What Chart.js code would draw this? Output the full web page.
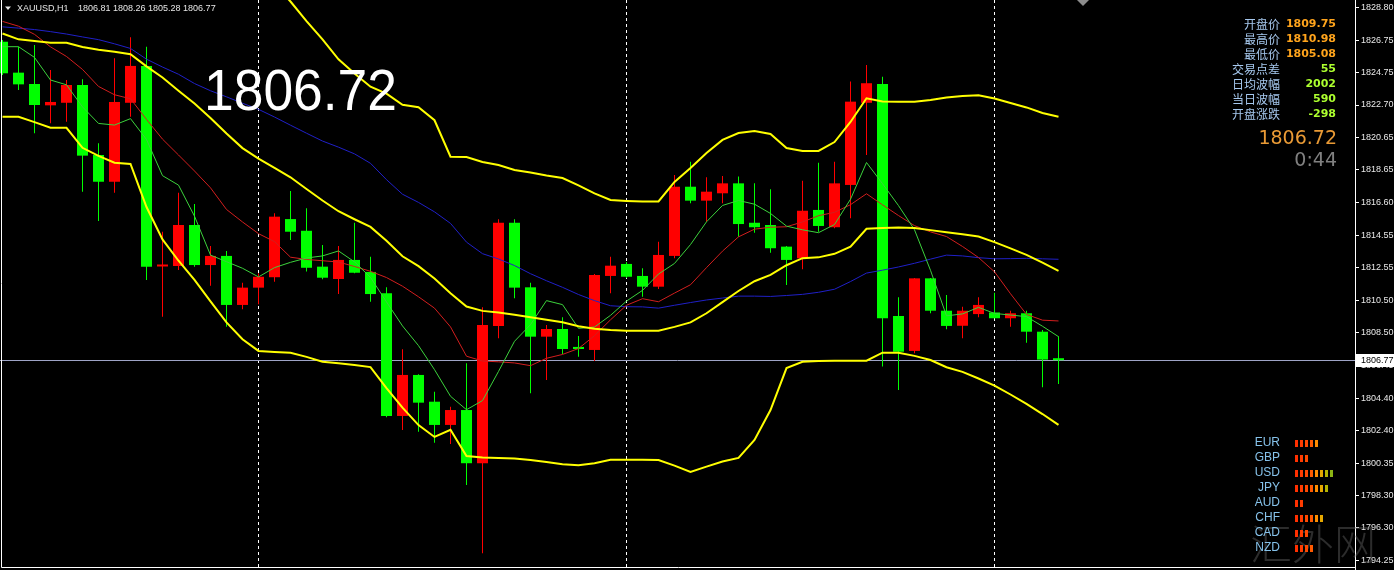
<!DOCTYPE html>
<html>
<head>
<meta charset="utf-8">
<script src="https://cdn.jsdelivr.net/npm/chart.js@4.4.1/dist/chart.umd.min.js"></script>
<style>
  html, body { margin: 0; padding: 0; background: #000; overflow: hidden; }
  canvas { display: block; }
</style>
</head>
<body>
<canvas id="myChart" width="1394" height="570"></canvas>
<script>
var symbol = "XAUUSD,H1";

// H1 candles, oldest first
var opens = [1826.65,1824.72,1824.01,1822.68,1822.84,1823.95,1819.58,1817.91,1822.84,1825.14,
  1812.62,1812.65,1815.21,1812.71,1813.28,1810.22,1811.30,1811.95,1815.58,1814.85,
  1812.61,1811.84,1813.03,1812.28,1810.95,1803.29,1805.85,1804.18,1802.73,1803.66,
  1800.34,1808.91,1815.35,1811.32,1808.24,1808.72,1807.60,1807.41,1812.03,1812.78,
  1812.03,1811.36,1813.28,1817.60,1816.73,1817.19,1817.81,1815.35,1815.21,1813.86,
  1813.13,1816.15,1815.07,1817.71,1822.84,1824.01,1809.53,1807.35,1811.88,1809.86,
  1808.92,1809.65,1809.75,1809.39,1809.70,1808.55,1806.81];
var highs = [1826.76,1826.34,1826.45,1824.89,1824.26,1824.31,1820.31,1825.62,1826.93,1826.34,
  1814.79,1817.23,1816.52,1813.90,1813.59,1811.61,1812.20,1815.94,1817.33,1816.25,
  1813.96,1813.90,1815.35,1813.23,1811.32,1807.45,1805.90,1804.80,1803.87,1806.58,
  1810.07,1815.57,1815.57,1811.61,1808.97,1809.45,1808.28,1812.15,1813.23,1812.90,
  1812.51,1814.17,1818.33,1819.16,1818.19,1818.27,1818.23,1817.81,1817.44,1813.90,
  1817.98,1819.10,1819.16,1824.16,1825.20,1824.47,1810.70,1811.90,1811.90,1810.84,
  1810.11,1810.70,1810.98,1809.86,1809.86,1808.65,1808.26];
var lows = [1824.57,1823.64,1820.93,1821.56,1821.66,1817.29,1815.46,1817.23,1821.97,1811.78,
  1809.49,1812.40,1812.61,1811.42,1808.86,1809.95,1810.26,1811.67,1814.27,1812.30,
  1811.82,1810.90,1812.20,1810.42,1803.21,1802.41,1802.31,1801.62,1801.54,1798.98,
  1794.72,1808.14,1810.63,1804.70,1805.54,1807.16,1806.99,1806.72,1810.95,1811.90,
  1810.73,1811.21,1813.13,1816.57,1815.42,1816.57,1814.48,1814.73,1813.48,1811.47,
  1812.45,1814.79,1815.00,1815.63,1819.58,1806.37,1804.91,1807.20,1809.70,1808.70,
  1808.14,1809.45,1809.39,1808.86,1807.86,1805.08,1805.28];
var closes = [1824.68,1823.99,1822.70,1822.89,1823.95,1819.54,1817.91,1822.89,1825.14,1812.61,
  1812.70,1815.21,1812.71,1813.28,1810.22,1811.30,1811.98,1815.73,1814.79,1812.54,
  1811.92,1813.03,1812.23,1810.90,1803.29,1805.85,1804.12,1802.73,1803.66,1800.34,
  1808.97,1815.35,1811.30,1808.24,1808.72,1807.47,1807.47,1812.09,1812.67,1811.98,
  1811.36,1813.34,1817.60,1816.73,1817.29,1817.81,1815.27,1815.07,1813.76,1813.03,
  1816.10,1815.15,1817.81,1822.91,1824.06,1809.39,1807.30,1811.88,1809.86,1808.91,
  1809.86,1810.22,1809.39,1809.70,1808.55,1806.81,1806.77];

// moving averages
var maFast = [1826.34,1826.34,1825.67,1824.26,1823.96,1822.58,1821.55,1821.45,1821.85,1820.55,
  1818.29,1817.70,1815.76,1813.33,1812.92,1812.51,1811.97,1812.55,1812.88,1813.15,
  1813.28,1813.59,1812.91,1811.94,1810.41,1808.91,1807.68,1806.18,1804.52,1803.68,
  1804.25,1806.07,1807.95,1808.99,1810.49,1810.24,1808.76,1808.84,1809.57,1810.46,
  1811.13,1812.15,1812.81,1813.99,1815.41,1816.43,1816.74,1816.51,1815.93,1815.14,
  1814.91,1814.73,1815.24,1816.82,1819.11,1817.79,1816.42,1814.91,1812.38,1809.54,
  1809.66,1810.07,1809.69,1809.59,1809.49,1808.89,1808.24];
var maMid = [1827.92,1827.62,1827.11,1826.33,1825.73,1824.92,1823.86,1823.34,1823.09,1821.80,
  1820.57,1819.58,1818.58,1817.53,1816.18,1815.40,1814.67,1814.17,1813.20,1813.06,
  1812.98,1812.90,1812.62,1812.32,1811.93,1811.39,1810.73,1810.02,1808.85,1807.02,
  1806.72,1806.67,1806.60,1806.43,1806.89,1807.13,1807.50,1808.30,1809.29,1810.20,
  1810.61,1810.42,1810.96,1811.48,1812.55,1813.58,1814.47,1814.95,1815.07,1815.10,
  1815.40,1815.79,1816.00,1816.48,1817.16,1816.47,1815.80,1815.17,1814.78,1814.49,
  1813.87,1813.18,1812.29,1810.92,1809.63,1809.27,1809.22];
var maSlow = [1827.58,1827.50,1827.41,1827.28,1827.13,1826.95,1826.78,1826.52,1826.23,1825.56,
  1825.07,1824.62,1824.04,1823.59,1823.21,1822.81,1822.43,1821.95,1821.44,1820.94,
  1820.45,1820.07,1819.65,1819.06,1818.04,1817.13,1816.62,1816.03,1815.31,1814.14,
  1813.42,1813.09,1812.68,1812.17,1811.73,1811.32,1810.87,1810.49,1810.17,1810.11,
  1810.10,1810.02,1810.20,1810.37,1810.53,1810.65,1810.77,1810.77,1810.75,1810.81,
  1810.88,1811.01,1811.20,1811.68,1812.21,1812.39,1812.59,1812.82,1813.08,1813.33,
  1813.28,1813.17,1813.10,1813.11,1813.13,1813.10,1813.07];

// bollinger bands
var bbUpper = [1832.36,1831.65,1831.77,1831.90,1831.90,1832.60,1832.78,1832.93,1832.72,1833.89,
  1834.53,1834.21,1833.80,1833.34,1832.72,1831.95,1831.35,1830.25,1829.16,1827.94,
  1826.80,1825.55,1824.67,1823.84,1823.41,1822.71,1822.56,1821.75,1819.47,1819.45,
  1819.14,1818.96,1818.64,1818.49,1818.30,1818.14,1817.68,1817.18,1816.77,1816.71,
  1816.67,1816.68,1817.90,1818.77,1819.71,1820.52,1820.95,1821.08,1820.89,1820.02,
  1819.83,1819.83,1820.39,1821.64,1823.12,1822.92,1822.91,1822.91,1823.01,1823.17,
  1823.26,1823.31,1823.11,1822.83,1822.55,1822.20,1821.97];
var bbMiddle = [1827.16,1826.80,1826.70,1826.59,1826.59,1826.32,1826.15,1826.02,1825.87,1825.11,
  1824.42,1823.59,1822.79,1821.89,1820.92,1820.01,1819.35,1818.77,1818.19,1817.46,
  1816.74,1816.07,1815.57,1815.09,1814.22,1813.26,1812.64,1811.87,1810.95,1810.12,
  1809.85,1809.75,1809.61,1809.45,1809.30,1809.14,1808.89,1808.74,1808.66,1808.61,
  1808.61,1808.61,1808.85,1809.13,1809.70,1810.40,1811.09,1811.70,1812.10,1812.70,
  1813.14,1813.19,1813.41,1813.86,1814.97,1815.02,1815.06,1815.03,1814.89,1814.76,
  1814.63,1814.49,1814.14,1813.75,1813.35,1812.86,1812.35];
var bbLower = [1821.97,1821.96,1821.63,1821.28,1821.28,1820.03,1819.52,1819.10,1819.02,1816.33,
  1814.31,1812.98,1811.78,1810.44,1809.13,1808.08,1807.35,1807.29,1807.23,1806.98,
  1806.68,1806.58,1806.47,1806.34,1805.03,1803.81,1802.72,1801.98,1802.43,1800.79,
  1800.70,1800.67,1800.64,1800.54,1800.41,1800.27,1800.22,1800.34,1800.55,1800.56,
  1800.56,1800.54,1800.19,1799.79,1800.13,1800.45,1800.67,1801.79,1803.66,1806.28,
  1806.67,1806.72,1806.74,1806.74,1806.74,1807.24,1807.24,1807.04,1806.78,1806.33,
  1806.04,1805.63,1805.19,1804.63,1804.04,1803.41,1802.73];

var priceTicks = [1828.80,1826.75,1824.75,1822.70,1820.65,1818.65,1816.60,1814.55,1812.55,
  1810.50,1808.50,1806.45,1804.40,1802.40,1800.35,1798.30,1796.30,1794.25];
var daySeparators = [16, 39, 62];

var infoLabels = ["开盘价", "最高价", "最低价", "交易点差", "日均波幅", "当日波幅", "开盘涨跌"];
var infoValues = ["1809.75", "1810.98", "1805.08", "55", "2002", "590", "-298"];
var bidPrice = "1806.72";
var timeLeft = "0:44";

var currencies = ["EUR", "GBP", "USD", "JPY", "AUD", "CHF", "CAD", "NZD"];
var strength = [5, 3, 8, 7, 2, 6, 3, 4];
var watermark = "汇外网";

var segColors = ["#ff3000", "#ff3c00", "#ff4800", "#ff5a00", "#ff8c00", "#e6a800", "#b4b400", "#8cb414"];
var last = closes.length - 1;
var candleColors = closes.map(function (c, i) { return c >= opens[i] ? "#ff0000" : "#00ff00"; });

function lineSet(values, color, width) {
    return {
        type: "line",
        data: values.map(function (v, i) { return { x: i, y: v }; }),
        borderColor: color,
        borderWidth: width,
        pointRadius: 0,
        tension: 0,
        fill: false,
        order: 0
    };
}

var overlay = {
    id: "overlay",
    beforeDatasetsDraw: function (chart) {
        var ctx = chart.ctx, a = chart.chartArea;
        var py = Math.round(chart.scales.y.getPixelForValue(closes[last])) + 0.5;
        ctx.save();
        ctx.strokeStyle = "#9ea4c6";
        ctx.lineWidth = 1;
        ctx.beginPath();
        ctx.moveTo(a.left, py);
        ctx.lineTo(a.right, py);
        ctx.stroke();
        ctx.restore();
    },
    afterDraw: function (chart) {
        var ctx = chart.ctx, a = chart.chartArea, ys = chart.scales.y;
        ctx.save();

        // frame
        ctx.strokeStyle = "#ffffff";
        ctx.lineWidth = 1;
        ctx.beginPath();
        ctx.moveTo(1.5, a.top);
        ctx.lineTo(1.5, a.bottom + 0.5);
        ctx.lineTo(a.right + 0.5, a.bottom + 0.5);
        ctx.moveTo(a.right + 0.5, a.top);
        ctx.lineTo(a.right + 0.5, chart.height);
        ctx.stroke();

        // current price box on the axis
        var py = ys.getPixelForValue(closes[last]);
        ctx.fillStyle = "#ffffff";
        ctx.fillRect(a.right + 1, Math.round(py) - 6, chart.width - a.right - 1, 13);
        ctx.fillStyle = "#000000";
        ctx.font = "9px 'Liberation Sans'";
        ctx.textAlign = "left";
        ctx.textBaseline = "middle";
        ctx.fillText(closes[last].toFixed(2), a.right + 6, py + 0.5);

        // shift marker
        ctx.fillStyle = "#8c8c8c";
        ctx.beginPath();
        ctx.moveTo(1077, 0); ctx.lineTo(1089, 0); ctx.lineTo(1083, 6);
        ctx.closePath();
        ctx.fill();

        // title
        ctx.fillStyle = "#e6e6e6";
        ctx.beginPath();
        ctx.moveTo(5, 6.5); ctx.lineTo(11, 6.5); ctx.lineTo(8, 10);
        ctx.closePath();
        ctx.fill();
        ctx.font = "9px 'Liberation Sans'";
        ctx.fillText(symbol, 17, 8.5);
        ctx.fillText([opens[last], highs[last], lows[last], closes[last]].map(function (v) { return v.toFixed(2); }).join(" "), 78, 8.5);

        // big price
        ctx.fillStyle = "#ffffff";
        ctx.font = "58px 'Liberation Sans'";
        ctx.textBaseline = "alphabetic";
        var w = ctx.measureText(bidPrice).width;
        ctx.save();
        ctx.translate(204, 110);
        ctx.scale(193 / w, 1);
        ctx.fillText(bidPrice, 0, 0);
        ctx.restore();

        // info panel
        ctx.textBaseline = "middle";
        ctx.textAlign = "right";
        infoLabels.forEach(function (lbl, i) {
            var y = 24 + 15 * i;
            ctx.font = "12px 'Noto Sans CJK SC'";
            ctx.fillStyle = "#a6c8ee";
            ctx.fillText(lbl, 1280, y);
            ctx.font = "bold 11px 'DejaVu Sans'";
            ctx.fillStyle = i < 3 ? "#ffa41c" : "#adff2f";
            ctx.fillText(infoValues[i], 1336, y);
        });
        ctx.font = "19px 'DejaVu Sans'";
        ctx.fillStyle = "#e99a35";
        ctx.fillText(bidPrice, 1337, 139);
        ctx.fillStyle = "#808080";
        ctx.fillText(timeLeft, 1337, 161);

        // watermark
        ctx.textAlign = "left";
        ctx.textBaseline = "alphabetic";
        ctx.font = "300 42px 'Noto Sans CJK SC'";
        ctx.fillStyle = "rgba(110,110,110,0.4)";
        ctx.fillText(watermark, 1250, 560);

        // currency strength
        ctx.textBaseline = "middle";
        currencies.forEach(function (c, i) {
            var y = 443 + 15 * i;
            ctx.textAlign = "right";
            ctx.font = "12px 'Liberation Sans'";
            ctx.fillStyle = "#86c2ea";
            ctx.fillText(c, 1280, y);
            for (var s = 0; s < strength[i]; s++) {
                ctx.fillStyle = segColors[s];
                ctx.fillRect(1295 + 5 * s, Math.round(y) - 3, 3, 7);
            }
        });

        ctx.restore();
    }
};

new Chart("myChart", {
    type: "line",
    data: {
        datasets: [
            lineSet(bbUpper, "#ffff00", 2),
            lineSet(bbMiddle, "#ffff00", 2),
            lineSet(bbLower, "#ffff00", 2),
            lineSet(maFast, "#3cd23c", 1),
            lineSet(maMid, "#d21e1e", 1),
            lineSet(maSlow, "#2020c8", 1),
            {
                type: "bar",
                data: closes.map(function (c, i) { return { x: i, y: [opens[i], c] }; }),
                backgroundColor: candleColors,
                borderWidth: 0,
                barThickness: 11,
                minBarLength: 2,
                inflateAmount: 0,
                grouped: false,
                order: 1
            },
            {
                type: "bar",
                data: closes.map(function (c, i) { return { x: i, y: [lows[i], highs[i]] }; }),
                backgroundColor: candleColors,
                borderWidth: 0,
                barThickness: 1,
                inflateAmount: 0,
                grouped: false,
                order: 2
            }
        ]
    },
    options: {
        responsive: false,
        animation: false,
        devicePixelRatio: 1,
        layout: { padding: 0 },
        plugins: {
            legend: { display: false },
            tooltip: { enabled: false }
        },
        scales: {
            x: {
                type: "linear",
                min: -0.15625,
                max: 84.53125,
                offset: false,
                afterBuildTicks: function (s) {
                    s.ticks = daySeparators.map(function (v) { return { value: v }; });
                },
                afterFit: function (s) { s.height = 3; s.paddingLeft = 0; s.paddingRight = 0; },
                ticks: { display: false },
                grid: { color: "#ffffff", lineWidth: 1, drawTicks: false, offset: false },
                border: { display: false, dash: [3, 3] }
            },
            y: {
                position: "right",
                min: 1793.862,
                max: 1829.255,
                afterBuildTicks: function (s) {
                    s.ticks = priceTicks.map(function (v) { return { value: v }; });
                },
                afterFit: function (s) { s.width = 39; s.paddingTop = 0; s.paddingBottom = 0; },
                ticks: {
                    color: "#e8e8e8",
                    font: { family: "Liberation Sans", size: 9 },
                    padding: 2,
                    autoSkip: false,
                    callback: function (v) { return Number(v).toFixed(2); }
                },
                grid: { drawOnChartArea: false, drawTicks: true, tickLength: 4, color: "#ffffff" },
                border: { display: false }
            }
        }
    },
    plugins: [overlay]
});
</script>
</body>
</html>
